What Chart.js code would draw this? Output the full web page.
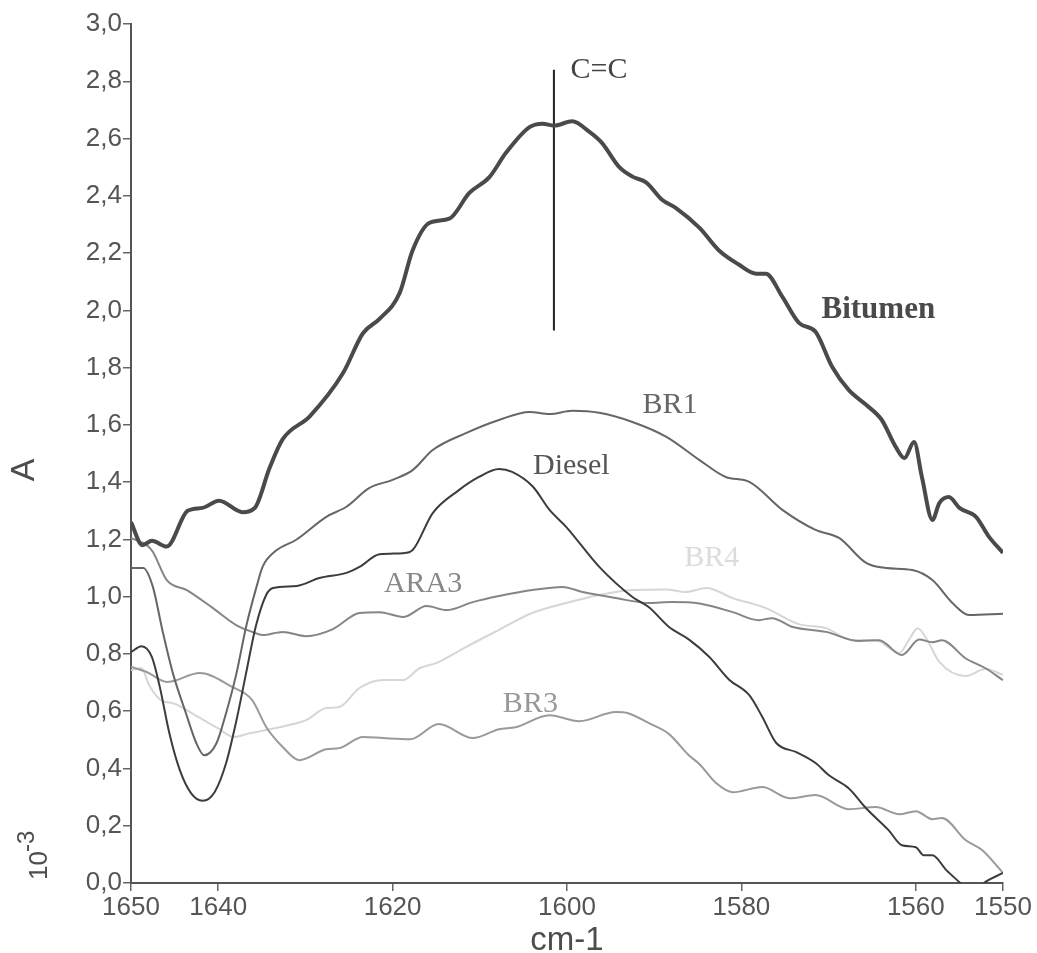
<!DOCTYPE html>
<html>
<head>
<meta charset="utf-8">
<script src="https://cdn.jsdelivr.net/npm/chart.js@4.4.1/dist/chart.umd.min.js"></script>
<style>
  html, body { margin: 0; padding: 0; background: #fff; }
  canvas { display: block; }
</style>
</head>
<body>
<canvas id="chart" width="1037" height="953"></canvas>
<script>
// wavenumbers (cm-1) and absorbance (x 10^-3)
const waveBitumen = [1650, 1648.7, 1647.6, 1645.9, 1643.5, 1641.8, 1639.9, 1637.2, 1635.8, 1634.1, 1632.6, 1629.5, 1625.7, 1623.4, 1621.5, 1619.2, 1617.7, 1615.8, 1613.5, 1611.2, 1608.9, 1607.0, 1604.3, 1602.8, 1601.5, 1599.4, 1597.5, 1596.0, 1594.0, 1592.5, 1590.9, 1589.1, 1587.5, 1584.8, 1582.6, 1580.3, 1578.3, 1577.2, 1575.3, 1573.4, 1571.5, 1569.6, 1567.7, 1565.7, 1563.9, 1562.3, 1561.3, 1560.2, 1559.3, 1558.1, 1557.3, 1556.2, 1555.0, 1553.1, 1551.6, 1550];
const absBitumen = [1.26, 1.18, 1.195, 1.175, 1.30, 1.31, 1.335, 1.295, 1.31, 1.45, 1.55, 1.63, 1.78, 1.92, 1.97, 2.06, 2.21, 2.305, 2.32, 2.41, 2.465, 2.55, 2.64, 2.652, 2.645, 2.66, 2.625, 2.585, 2.50, 2.467, 2.446, 2.386, 2.357, 2.288, 2.21, 2.16, 2.128, 2.128, 2.047, 1.956, 1.925, 1.803, 1.722, 1.67, 1.617, 1.523, 1.484, 1.54, 1.418, 1.268, 1.327, 1.348, 1.31, 1.279, 1.209, 1.153];

const waveBR1 = [1650, 1648.6, 1647.5, 1646.4, 1645.2, 1643.7, 1642.5, 1641.6, 1640.2, 1639.1, 1637.9, 1636.8, 1635.6, 1634.9, 1633.4, 1631.1, 1627.6, 1625.3, 1622.7, 1620.0, 1617.7, 1615.4, 1611.6, 1607.8, 1604.3, 1602.0, 1599.4, 1596.3, 1592.5, 1588.6, 1584.8, 1581.8, 1579.1, 1575.3, 1571.5, 1568.8, 1565.7, 1563.4, 1560.4, 1558.1, 1555.8, 1553.9, 1550];
const absBR1 = [1.10, 1.10, 1.035, 0.883, 0.733, 0.593, 0.488, 0.446, 0.488, 0.593, 0.733, 0.895, 1.035, 1.105, 1.16, 1.198, 1.279, 1.314, 1.379, 1.408, 1.442, 1.512, 1.571, 1.617, 1.645, 1.638, 1.649, 1.642, 1.610, 1.558, 1.477, 1.418, 1.401, 1.303, 1.233, 1.205, 1.118, 1.100, 1.093, 1.058, 0.978, 0.936, 0.94];

const waveDiesel = [1650, 1648.8, 1647.6, 1646.7, 1645.6, 1644.4, 1643.1, 1641.8, 1640.4, 1639.1, 1637.9, 1636.8, 1635.7, 1634.5, 1633.7, 1631.0, 1628.4, 1625.3, 1623.8, 1621.5, 1618.8, 1617.7, 1615.4, 1612.4, 1610.1, 1607.8, 1606.3, 1603.9, 1602.0, 1600.1, 1596.3, 1592.5, 1590.6, 1588.3, 1586.0, 1583.7, 1581.4, 1579.1, 1577.6, 1576.0, 1573.7, 1571.5, 1570.0, 1567.7, 1565.7, 1563.1, 1561.6, 1560.0, 1559.1, 1558.1, 1556.5, 1554.9, 1553.5, 1552.2, 1550];
const absDiesel = [0.806, 0.827, 0.789, 0.685, 0.523, 0.394, 0.313, 0.287, 0.318, 0.418, 0.569, 0.733, 0.895, 1.006, 1.03, 1.037, 1.065, 1.083, 1.104, 1.148, 1.152, 1.163, 1.292, 1.372, 1.418, 1.446, 1.436, 1.384, 1.303, 1.244, 1.104, 0.999, 0.963, 0.894, 0.85, 0.79, 0.71, 0.656, 0.58, 0.489, 0.457, 0.419, 0.377, 0.331, 0.261, 0.184, 0.132, 0.125, 0.097, 0.097, 0.045, 0.0, -0.04, 0.0, 0.035];

const waveARA3 = [1650, 1648.2, 1647.5, 1645.9, 1643.6, 1640.6, 1637.9, 1636.1, 1634.9, 1632.6, 1629.9, 1626.9, 1623.8, 1621.5, 1618.8, 1616.1, 1613.8, 1610.8, 1607.8, 1604.0, 1600.5, 1598.2, 1594.4, 1590.6, 1588.0, 1584.8, 1581.0, 1578.0, 1576.5, 1574.1, 1570.3, 1566.5, 1564.2, 1561.6, 1559.6, 1558.1, 1557.0, 1554.3, 1552.0, 1550];
const absARA3 = [1.204, 1.18, 1.157, 1.058, 1.023, 0.96, 0.90, 0.877, 0.866, 0.877, 0.862, 0.886, 0.943, 0.946, 0.929, 0.967, 0.953, 0.981, 1.002, 1.023, 1.034, 1.016, 0.995, 0.978, 0.981, 0.976, 0.946, 0.918, 0.925, 0.894, 0.877, 0.845, 0.848, 0.796, 0.85, 0.841, 0.848, 0.785, 0.75, 0.708];

const waveBR4 = [1650, 1648.8, 1647.9, 1646.4, 1645.2, 1642.3, 1640.0, 1638.2, 1636.5, 1634.5, 1631.4, 1629.9, 1627.6, 1626.1, 1623.8, 1621.1, 1618.8, 1616.9, 1615.0, 1611.6, 1607.8, 1604.0, 1600.1, 1596.3, 1592.5, 1588.6, 1586.4, 1584.0, 1581.0, 1577.2, 1573.4, 1570.3, 1567.3, 1564.6, 1561.9, 1560.8, 1559.8, 1558.5, 1557.3, 1554.3, 1552.0, 1550];
const absBR4 = [0.743, 0.75, 0.69, 0.635, 0.628, 0.58, 0.54, 0.51, 0.522, 0.534, 0.555, 0.569, 0.611, 0.615, 0.681, 0.709, 0.709, 0.75, 0.768, 0.824, 0.884, 0.943, 0.978, 1.006, 1.023, 1.025, 1.016, 1.030, 0.995, 0.960, 0.904, 0.89, 0.848, 0.848, 0.803, 0.848, 0.89, 0.838, 0.772, 0.723, 0.747, 0.727];

const waveBR3 = [1650, 1648.2, 1645.9, 1642.1, 1638.4, 1636.1, 1634.5, 1632.6, 1630.7, 1627.6, 1626.1, 1623.4, 1621.1, 1618.0, 1614.7, 1610.8, 1607.8, 1605.9, 1602.0, 1598.6, 1594.4, 1593.0, 1590.6, 1588.3, 1586.0, 1584.8, 1582.9, 1581.0, 1577.6, 1574.5, 1571.5, 1567.7, 1564.6, 1561.9, 1560.0, 1558.1, 1557.0, 1554.3, 1552.4, 1550];
const absBR3 = [0.755, 0.737, 0.702, 0.733, 0.685, 0.639, 0.545, 0.475, 0.429, 0.467, 0.471, 0.51, 0.506, 0.502, 0.555, 0.506, 0.537, 0.544, 0.586, 0.565, 0.597, 0.593, 0.558, 0.52, 0.445, 0.415, 0.349, 0.317, 0.335, 0.296, 0.307, 0.258, 0.265, 0.24, 0.251, 0.223, 0.227, 0.15, 0.115, 0.035];

// C=C band marker
const markerWave = [1601.5, 1601.5];
const markerAbs = [1.93, 2.84];

const xTicks = [1650, 1640, 1620, 1600, 1580, 1560, 1550];

const zip = (xs, ys) => xs.map((x, i) => ({ x, y: ys[i] }));

// curve labels, anchored in data coordinates (baseline)
const curveLabels = [
  { text: 'C=C', x: 1599.6, y: 2.81, color: '#444', bold: false, align: 'left' },
  { text: 'Bitumen', x: 1564.3, y: 1.974, color: '#4a4a4a', bold: true, align: 'center' },
  { text: 'BR1', x: 1588.2, y: 1.642, color: '#666', bold: false, align: 'center' },
  { text: 'Diesel', x: 1599.5, y: 1.429, color: '#555', bold: false, align: 'center' },
  { text: 'ARA3', x: 1616.5, y: 1.016, color: '#888', bold: false, align: 'center' },
  { text: 'BR4', x: 1583.4, y: 1.107, color: '#dcdcdc', bold: false, align: 'center' },
  { text: 'BR3', x: 1604.2, y: 0.597, color: '#999', bold: false, align: 'center' }
];

const line = (label, xs, ys, color, width) => ({
  label, data: zip(xs, ys), borderColor: color, borderWidth: width,
  pointRadius: 0, fill: false, cubicInterpolationMode: 'monotone'
});

const textPlugin = {
  id: 'texts',
  afterDraw(chart) {
    const { ctx, scales: { x, y } } = chart;
    ctx.save();
    curveLabels.forEach(l => {
      ctx.font = (l.bold ? 'bold 31px' : '30px') + ' "Liberation Serif", "Times New Roman", serif';
      ctx.fillStyle = l.color;
      ctx.textAlign = l.align;
      ctx.textBaseline = 'alphabetic';
      ctx.fillText(l.text, x.getPixelForValue(l.x), y.getPixelForValue(l.y));
    });
    // axis titles
    ctx.fillStyle = '#4d4d4d';
    ctx.font = '33px "Liberation Sans", Arial, sans-serif';
    ctx.textAlign = 'center';
    ctx.fillText('cm-1', x.getPixelForValue(1600), 950);

    ctx.save();
    ctx.translate(37, 470);
    ctx.rotate(-Math.PI / 2);
    ctx.font = '34px "Liberation Sans", Arial, sans-serif';
    ctx.textAlign = 'center';
    ctx.textBaseline = 'middle';
    ctx.fillText('A', 0, -12);
    ctx.restore();

    ctx.save();
    ctx.translate(47, 880);
    ctx.rotate(-Math.PI / 2);
    ctx.textAlign = 'left';
    ctx.textBaseline = 'alphabetic';
    ctx.font = '26px "Liberation Sans", Arial, sans-serif';
    ctx.fillText('10', 0, 0);
    const w = ctx.measureText('10').width;
    ctx.font = '24px "Liberation Sans", Arial, sans-serif';
    ctx.fillText('-3', w - 1, -13);
    ctx.restore();
    ctx.restore();
  }
};

const tickFont = { family: '"Liberation Sans", Arial, sans-serif', size: 26 };

new Chart(document.getElementById('chart'), {
  type: 'line',
  data: {
    datasets: [
      line('Bitumen', waveBitumen, absBitumen, '#4a4a4a', 4),
      line('C=C', markerWave, markerAbs, '#222', 2),
      line('Diesel', waveDiesel, absDiesel, '#3c3c3c', 2),
      line('BR1', waveBR1, absBR1, '#666', 2),
      line('ARA3', waveARA3, absARA3, '#858585', 2),
      line('BR3', waveBR3, absBR3, '#9a9a9a', 2),
      line('BR4', waveBR4, absBR4, '#d6d6d6', 2)
    ]
  },
  options: {
    responsive: false,
    animation: false,
    layout: { padding: { top: 24, right: 34, left: 0, bottom: 0 } },
    plugins: { legend: { display: false }, tooltip: { enabled: false } },
    scales: {
      x: {
        type: 'linear', reverse: true, min: 1550, max: 1650,
        afterBuildTicks: s => { s.ticks = xTicks.map(v => ({ value: v })); },
        afterFit: s => { s.height = 70; },
        grid: { drawOnChartArea: false, drawTicks: true, tickLength: 8, color: '#666', lineWidth: 1.5 },
        border: { display: true, color: '#555', width: 2 },
        ticks: { font: tickFont, color: '#555', padding: 1, maxRotation: 0, callback: v => String(v) }
      },
      y: {
        min: 0, max: 3,
        afterFit: s => { s.width = 131; },
        grid: { drawOnChartArea: false, drawTicks: true, tickLength: 8, color: '#666', lineWidth: 1.5 },
        border: { display: true, color: '#555', width: 2 },
        ticks: { font: tickFont, color: '#555', padding: 1, stepSize: 0.2,
          callback: v => v.toFixed(1).replace('.', ',') }
      }
    }
  },
  plugins: [textPlugin]
});
</script>
</body>
</html>
